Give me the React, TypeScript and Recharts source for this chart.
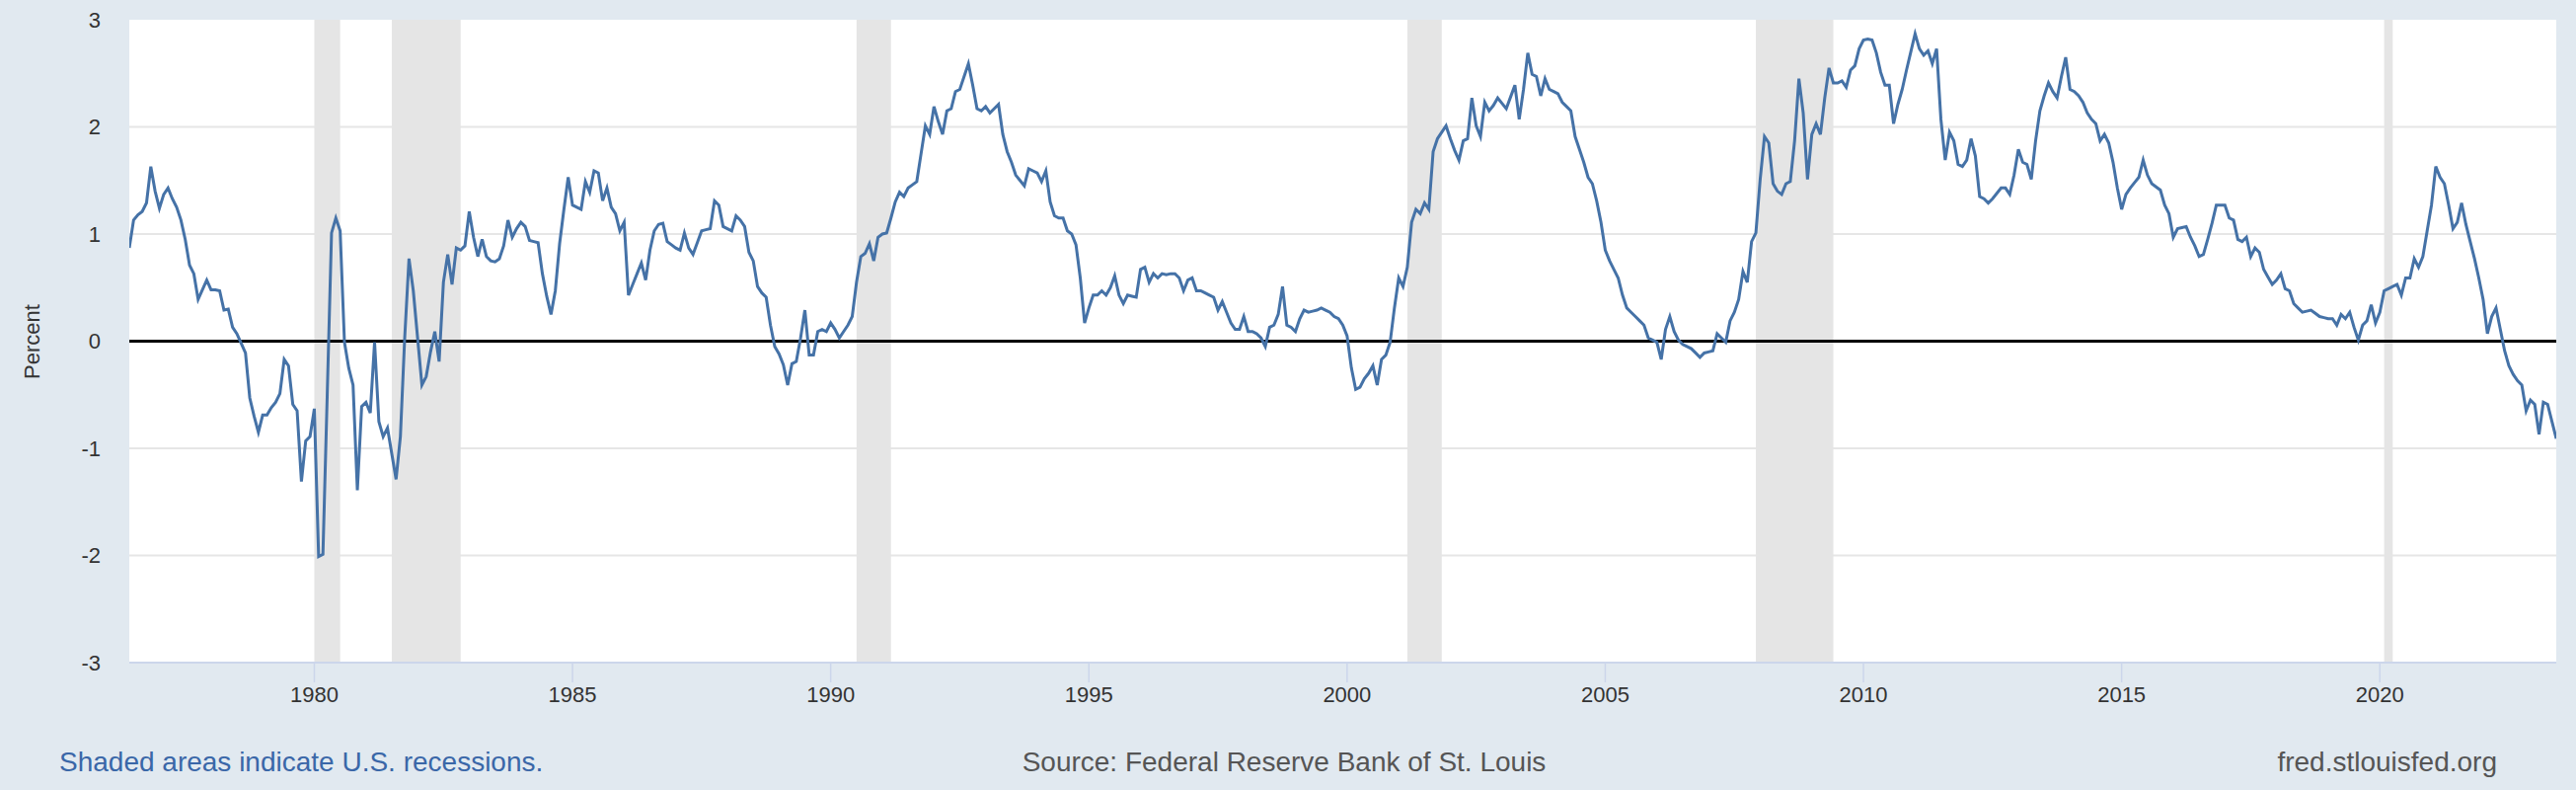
import React from 'react';
import { LineChart, Line, XAxis, YAxis, CartesianGrid, ReferenceArea, ReferenceLine } from 'recharts';

// monthly 10-year minus 2-year treasury spread, starting June 1976
const START_YEAR = 1976;
const START_MONTH = 6;

const spread = [
    0.87, 1.13, 1.18, 1.21, 1.29, 1.63, 1.40, // 1976 (Jun-Dec)
    1.24, 1.37, 1.43, 1.33, 1.25, 1.13, 0.95, 0.71, 0.63, 0.39, 0.48, 0.57, // 1977
    0.48, 0.48, 0.47, 0.29, 0.30, 0.13, 0.07, -0.02, -0.11, -0.53, -0.70, -0.85, // 1978
    -0.69, -0.69, -0.62, -0.57, -0.49, -0.17, -0.23, -0.59, -0.65, -1.31, -0.93, -0.89, // 1979
    -0.63, -2.01, -1.99, -0.50, 1.01, 1.15, 1.03, -0.01, -0.25, -0.41, -1.39, -0.61, // 1980
    -0.57, -0.67, -0.01, -0.75, -0.89, -0.81, -1.05, -1.29, -0.89, 0.03, 0.77, 0.47, // 1981
    0.03, -0.41, -0.33, -0.10, 0.09, -0.19, 0.55, 0.81, 0.53, 0.87, 0.85, 0.89, // 1982
    1.21, 0.97, 0.79, 0.95, 0.79, 0.75, 0.74, 0.77, 0.89, 1.13, 0.97, 1.05, // 1983
    1.11, 1.07, 0.94, 0.93, 0.92, 0.63, 0.42, 0.25, 0.47, 0.91, 1.23, 1.53, // 1984
    1.27, 1.25, 1.23, 1.49, 1.39, 1.59, 1.57, 1.31, 1.43, 1.25, 1.19, 1.03, // 1985
    1.11, 0.43, 0.53, 0.63, 0.73, 0.57, 0.85, 1.03, 1.09, 1.10, 0.93, 0.90, // 1986
    0.87, 0.85, 1.01, 0.87, 0.81, 0.92, 1.03, 1.04, 1.05, 1.31, 1.27, 1.07, // 1987
    1.05, 1.03, 1.17, 1.13, 1.07, 0.83, 0.75, 0.51, 0.45, 0.41, 0.15, -0.05, // 1988
    -0.12, -0.22, -0.41, -0.21, -0.19, 0.03, 0.29, -0.13, -0.13, 0.09, 0.11, 0.09, // 1989
    0.17, 0.11, 0.03, 0.09, 0.15, 0.23, 0.55, 0.79, 0.82, 0.91, 0.75, 0.97, // 1990
    1.00, 1.01, 1.15, 1.30, 1.39, 1.35, 1.43, 1.46, 1.49, 1.75, 2.01, 1.93, // 1991
    2.19, 2.05, 1.93, 2.15, 2.17, 2.33, 2.35, 2.47, 2.59, 2.39, 2.17, 2.15, // 1992
    2.19, 2.13, 2.17, 2.21, 1.93, 1.77, 1.67, 1.55, 1.50, 1.45, 1.61, 1.59, // 1993
    1.57, 1.49, 1.59, 1.30, 1.17, 1.15, 1.15, 1.03, 1.00, 0.90, 0.59, 0.17, // 1994
    0.31, 0.43, 0.43, 0.47, 0.43, 0.50, 0.61, 0.43, 0.35, 0.43, 0.42, 0.41, // 1995
    0.67, 0.69, 0.55, 0.63, 0.59, 0.63, 0.62, 0.63, 0.63, 0.59, 0.47, 0.57, // 1996
    0.59, 0.47, 0.47, 0.45, 0.43, 0.41, 0.29, 0.37, 0.27, 0.17, 0.11, 0.11, // 1997
    0.23, 0.09, 0.09, 0.07, 0.03, -0.05, 0.13, 0.15, 0.25, 0.51, 0.15, 0.13, // 1998
    0.09, 0.21, 0.29, 0.27, 0.28, 0.29, 0.31, 0.29, 0.27, 0.23, 0.21, 0.15, // 1999
    0.05, -0.25, -0.45, -0.43, -0.35, -0.30, -0.23, -0.41, -0.17, -0.13, -0.01, 0.31, // 2000
    0.59, 0.51, 0.69, 1.11, 1.23, 1.19, 1.29, 1.23, 1.77, 1.89, 1.95, 2.01, // 2001
    1.89, 1.78, 1.69, 1.87, 1.89, 2.27, 2.01, 1.91, 2.23, 2.15, 2.20, 2.27, // 2002
    2.22, 2.17, 2.28, 2.39, 2.07, 2.35, 2.69, 2.49, 2.47, 2.29, 2.45, 2.35, // 2003
    2.33, 2.31, 2.23, 2.19, 2.15, 1.91, 1.79, 1.67, 1.53, 1.47, 1.31, 1.11, // 2004
    0.85, 0.75, 0.67, 0.59, 0.43, 0.31, 0.27, 0.23, 0.19, 0.15, 0.03, 0.01, // 2005
    -0.01, -0.17, 0.11, 0.23, 0.09, 0.01, -0.03, -0.05, -0.07, -0.11, -0.15, -0.11, // 2006
    -0.10, -0.09, 0.07, 0.03, -0.01, 0.19, 0.27, 0.39, 0.65, 0.55, 0.93, 1.01, // 2007
    1.51, 1.91, 1.85, 1.47, 1.40, 1.37, 1.47, 1.49, 1.87, 2.45, 2.13, 1.51, // 2008
    1.93, 2.03, 1.93, 2.27, 2.55, 2.41, 2.41, 2.43, 2.37, 2.53, 2.57, 2.73, // 2009
    2.81, 2.82, 2.81, 2.69, 2.51, 2.39, 2.39, 2.03, 2.21, 2.35, 2.53, 2.70, // 2010
    2.87, 2.73, 2.67, 2.71, 2.59, 2.73, 2.07, 1.69, 1.95, 1.87, 1.65, 1.63, // 2011
    1.69, 1.89, 1.73, 1.35, 1.33, 1.29, 1.33, 1.38, 1.43, 1.43, 1.37, 1.55, // 2012
    1.79, 1.67, 1.65, 1.51, 1.87, 2.15, 2.29, 2.41, 2.33, 2.27, 2.47, 2.65, // 2013
    2.35, 2.33, 2.29, 2.23, 2.13, 2.07, 2.03, 1.87, 1.93, 1.85, 1.67, 1.43, // 2014
    1.23, 1.37, 1.43, 1.48, 1.53, 1.69, 1.55, 1.47, 1.44, 1.41, 1.27, 1.19, // 2015
    0.97, 1.05, 1.06, 1.07, 0.97, 0.89, 0.79, 0.81, 0.95, 1.10, 1.27, 1.27, // 2016
    1.27, 1.15, 1.13, 0.95, 0.93, 0.97, 0.79, 0.87, 0.83, 0.67, 0.60, 0.53, // 2017
    0.57, 0.63, 0.49, 0.47, 0.35, 0.31, 0.27, 0.28, 0.29, 0.26, 0.23, 0.22, // 2018
    0.21, 0.21, 0.15, 0.25, 0.21, 0.27, 0.13, 0.01, 0.15, 0.19, 0.34, 0.17, // 2019
    0.27, 0.47, 0.49, 0.51, 0.53, 0.43, 0.59, 0.59, 0.77, 0.69, 0.79, 1.03, // 2020
    1.27, 1.63, 1.53, 1.47, 1.27, 1.05, 1.11, 1.29, 1.09, 0.93, 0.77, 0.59, // 2021
    0.39, 0.07, 0.23, 0.31, 0.11, -0.09, -0.23, -0.31, -0.37, -0.41, -0.65, -0.55, // 2022
    -0.59, -0.87, -0.57, -0.59, -0.75, -0.91, // 2023 (Jan-Jun)
];

// NBER recessions as [start, end] in fractional years
const recessions: [number, number][] = [
    [1980 + 0 / 12, 1980 + 6 / 12],
    [1981 + 6 / 12, 1982 + 10 / 12],
    [1990 + 6 / 12, 1991 + 2 / 12],
    [2001 + 2 / 12, 2001 + 10 / 12],
    [2007 + 11 / 12, 2009 + 5 / 12],
    [2020 + 1 / 12, 2020 + 3 / 12],
];

const xTicks = [1980, 1985, 1990, 1995, 2000, 2005, 2010, 2015, 2020];
const yTicks = [-3, -2, -1, 0, 1, 2, 3];
const gridValues = [-2, -1, 1, 2];

const data = spread.map((v, i) => ({ t: START_YEAR + (START_MONTH - 1 + i) / 12, v }));
const xMin = data[0].t;
const xMax = data[data.length - 1].t;

const FONT = '"Liberation Sans", Arial, Helvetica, sans-serif';

export default function App() {
    return (
        <div style={{ position: 'absolute', left: 0, top: 0, width: 2610, height: 800, background: '#e1e9f0', fontFamily: FONT }}>
            <LineChart width={2610} height={800} data={data} margin={{ top: 20, right: 20, bottom: 99, left: 0 }}>
                <CartesianGrid vertical={false} horizontalValues={gridValues} stroke="#e6e6e6" strokeWidth={2} fill="#ffffff" fillOpacity={1} />
                <XAxis
                    type="number"
                    dataKey="t"
                    domain={[xMin, xMax]}
                    ticks={xTicks}
                    interval={0}
                    allowDataOverflow
                    height={30}
                    axisLine={{ stroke: '#ccd6eb', strokeWidth: 2 }}
                    tickLine={{ stroke: '#ccd6eb', strokeWidth: 1.5 }}
                    tickSize={20}
                    tickMargin={4}
                    tick={{ fill: '#333333', fontSize: 22, fontFamily: FONT }}
                />
                <YAxis
                    type="number"
                    domain={[-3, 3]}
                    ticks={yTicks}
                    interval={0}
                    width={131}
                    axisLine={false}
                    tickLine={false}
                    tickSize={0}
                    tickMargin={29}
                    tick={{ fill: '#333333', fontSize: 22, fontFamily: FONT }}
                />
                {recessions.map(([a, b], i) => (
                    <ReferenceArea key={i} x1={a} x2={b} y1={-3} y2={3} fill="#e5e5e5" fillOpacity={1} stroke="none" />
                ))}
                <ReferenceLine y={0} stroke="#000000" strokeWidth={3} />
                <Line type="linear" dataKey="v" stroke="#4572a7" strokeWidth={3} dot={false} isAnimationActive={false} />
            </LineChart>

            <div style={{ position: 'absolute', left: 33, top: 346, transform: 'translate(-50%, -50%) rotate(-90deg)', fontSize: 22, color: '#333333', whiteSpace: 'nowrap' }}>
                Percent
            </div>

            <div style={{ position: 'absolute', left: 60, top: 756, fontSize: 28, lineHeight: '32px', color: '#3a67a8', whiteSpace: 'nowrap' }}>
                Shaded areas indicate U.S. recessions.
            </div>
            <div style={{ position: 'absolute', left: 1301, top: 756, transform: 'translateX(-50%)', fontSize: 28, lineHeight: '32px', color: '#555555', whiteSpace: 'nowrap' }}>
                Source: Federal Reserve Bank of St. Louis
            </div>
            <div style={{ position: 'absolute', right: 80, top: 756, fontSize: 28, lineHeight: '32px', color: '#555555', whiteSpace: 'nowrap' }}>
                fred.stlouisfed.org
            </div>
        </div>
    );
}
